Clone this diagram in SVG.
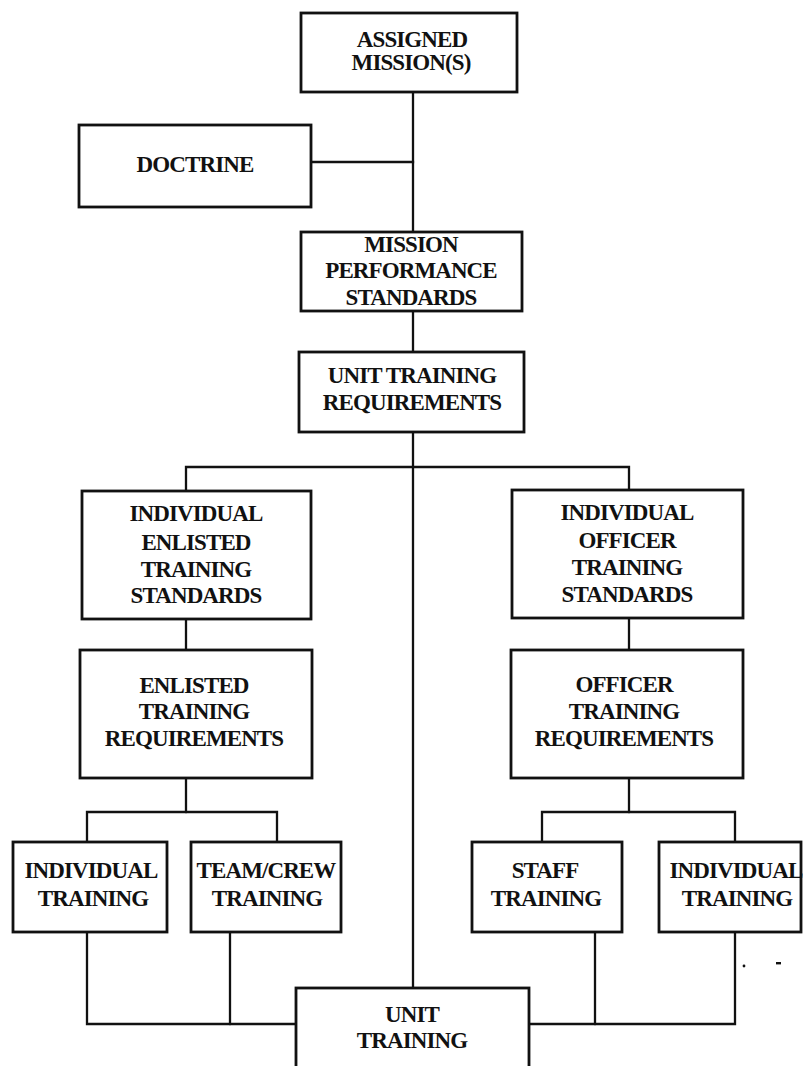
<svg xmlns="http://www.w3.org/2000/svg" width="804" height="1066" viewBox="0 0 804 1066">
  <style>
    .box { fill: #ffffff; stroke: #111111; stroke-width: 2.8; }
    .wire { fill: none; stroke: #111111; stroke-width: 2.3; stroke-linecap: square; }
    .lbl { font-family: "Liberation Serif", "Times New Roman", serif; font-weight: bold; font-size: 23px; fill: #111111; text-anchor: middle; letter-spacing: -0.9px; }
  </style>
  <rect x="0" y="0" width="804" height="1066" fill="#ffffff"/>

  <!-- connectors -->
  <g id="connectors" class="wire">
    <path d="M413 92 V232"/>
    <path d="M311 162 H413"/>
    <path d="M413 311 V352"/>
    <path d="M413 432 V988"/>
    <path d="M186 491 V467 H629 V490"/>
    <path d="M186 619 V650"/>
    <path d="M629 618 V650"/>
    <path d="M186 778 V812"/>
    <path d="M87 842 V812 H277 V842"/>
    <path d="M629 778 V812"/>
    <path d="M542 842 V812 H735 V842"/>
    <path d="M87 932 V1024 H296"/>
    <path d="M230 932 V1024"/>
    <path d="M595 932 V1024"/>
    <path d="M735 932 V1024 H529"/>
  </g>

  <g id="assigned-missions">
    <rect class="box" x="301" y="13" width="216" height="79"/>
    <text class="lbl" x="412" y="47">ASSIGNED</text>
    <text class="lbl" x="411" y="70">MISSION(S)</text>
  </g>

  <g id="doctrine">
    <rect class="box" x="79" y="125" width="232" height="82"/>
    <text class="lbl" x="195" y="172">DOCTRINE</text>
  </g>

  <g id="mission-performance-standards">
    <rect class="box" x="301" y="232" width="221" height="79"/>
    <text class="lbl" x="411" y="252">MISSION</text>
    <text class="lbl" x="411" y="278">PERFORMANCE</text>
    <text class="lbl" x="411" y="305">STANDARDS</text>
  </g>

  <g id="unit-training-requirements">
    <rect class="box" x="299" y="352" width="225" height="80"/>
    <text class="lbl" x="412" y="383">UNIT TRAINING</text>
    <text class="lbl" x="412" y="410">REQUIREMENTS</text>
  </g>

  <g id="individual-enlisted-training-standards">
    <rect class="box" x="82" y="491" width="229" height="128"/>
    <text class="lbl" x="196" y="521">INDIVIDUAL</text>
    <text class="lbl" x="196" y="550">ENLISTED</text>
    <text class="lbl" x="196" y="577">TRAINING</text>
    <text class="lbl" x="196" y="603">STANDARDS</text>
  </g>

  <g id="individual-officer-training-standards">
    <rect class="box" x="512" y="490" width="231" height="128"/>
    <text class="lbl" x="627" y="520">INDIVIDUAL</text>
    <text class="lbl" x="627" y="548">OFFICER</text>
    <text class="lbl" x="627" y="575">TRAINING</text>
    <text class="lbl" x="627" y="602">STANDARDS</text>
  </g>

  <g id="enlisted-training-requirements">
    <rect class="box" x="80" y="650" width="232" height="128"/>
    <text class="lbl" x="194" y="693">ENLISTED</text>
    <text class="lbl" x="194" y="719">TRAINING</text>
    <text class="lbl" x="194" y="746">REQUIREMENTS</text>
  </g>

  <g id="officer-training-requirements">
    <rect class="box" x="511" y="650" width="232" height="128"/>
    <text class="lbl" x="624" y="692">OFFICER</text>
    <text class="lbl" x="624" y="719">TRAINING</text>
    <text class="lbl" x="624" y="746">REQUIREMENTS</text>
  </g>

  <g id="enlisted-individual-training">
    <rect class="box" x="13" y="842" width="154" height="90"/>
    <text class="lbl" x="91" y="878">INDIVIDUAL</text>
    <text class="lbl" x="93" y="906">TRAINING</text>
  </g>

  <g id="team-crew-training">
    <rect class="box" x="191" y="842" width="150" height="90"/>
    <text class="lbl" x="266" y="878">TEAM/CREW</text>
    <text class="lbl" x="267" y="906">TRAINING</text>
  </g>

  <g id="staff-training">
    <rect class="box" x="472" y="842" width="150" height="90"/>
    <text class="lbl" x="545" y="878">STAFF</text>
    <text class="lbl" x="546" y="906">TRAINING</text>
  </g>

  <g id="officer-individual-training">
    <rect class="box" x="659" y="842" width="142" height="90"/>
    <text class="lbl" x="736" y="878">INDIVIDUAL</text>
    <text class="lbl" x="737" y="906">TRAINING</text>
  </g>

  <g id="unit-training">
    <rect class="box" x="296" y="988" width="233" height="90"/>
    <text class="lbl" x="412" y="1022">UNIT</text>
    <text class="lbl" x="412" y="1048">TRAINING</text>
  </g>

  <!-- stray specks near the right edge -->
  <circle cx="744" cy="966" r="1.4" fill="#111111"/>
  <rect x="776" y="962" width="5" height="2.4" fill="#111111"/>
</svg>
